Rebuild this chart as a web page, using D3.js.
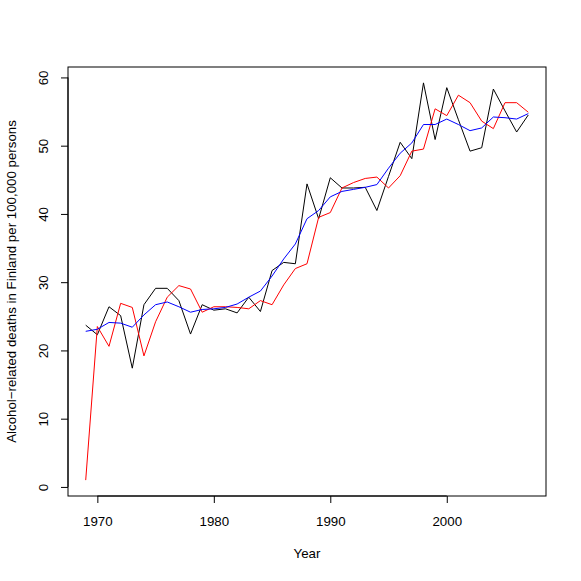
<!DOCTYPE html>
<html lang="en">
<head>
<meta charset="UTF-8">
<script src="https://d3js.org/d3.v7.min.js"></script>
<style>
  body { margin: 0; background: #fff; }
  text { font-family: "Liberation Sans", Arial, Helvetica, sans-serif; font-size: 13.3px; fill: #000; }
</style>
</head>
<body>
<div id="chart"></div>
<script>
// years 1969..2007
var years = d3.range(1969, 2008);

// observed deaths (black)
var observed = [23.7, 22.3, 26.4, 25.1, 17.4, 26.7, 29.1, 29.1, 27.3, 22.4,
  26.7, 25.9, 26.1, 25.5, 27.8, 25.7, 31.7, 32.9, 32.7, 44.4,
  39.3, 45.3, 43.8, 43.8, 43.9, 40.5, 45.5, 50.5, 48.1, 59.2,
  50.9, 58.5, 53.8, 49.2, 49.7, 58.3, 55.1, 52.0, 54.5];

// predicted (red)
var predicted = [1.0, 23.5, 20.6, 26.9, 26.3, 19.2, 24.2, 27.8, 29.5, 29.0,
  25.6, 26.4, 26.4, 26.3, 26.1, 27.3, 26.7, 29.6, 32.0, 32.7,
  39.5, 40.2, 43.8, 44.6, 45.2, 45.4, 43.8, 45.6, 49.2, 49.5,
  55.4, 54.4, 57.4, 56.3, 53.6, 52.5, 56.3, 56.3, 54.9];

// smoothed (blue)
var smoothed = [22.8, 23.1, 24.1, 24.0, 23.4, 25.2, 26.7, 27.1, 26.4, 25.6,
  26.0, 26.1, 26.3, 26.8, 27.8, 28.7, 30.9, 33.4, 35.6, 39.3,
  40.5, 42.5, 43.3, 43.6, 43.9, 44.3, 46.7, 48.9, 50.4, 53.1,
  53.1, 53.9, 53.1, 52.2, 52.6, 54.2, 54.1, 53.9, 54.7];

var xTicks = [1970, 1980, 1990, 2000];
var yTicks = [0, 10, 20, 30, 40, 50, 60];

var W = 581, H = 581;
var plotL = 68, plotR = 546, plotT = 67, plotB = 496;

var svg = d3.select("#chart").append("svg")
  .attr("width", W).attr("height", H);

// R style 4% padding around data range
var xPad = (2007 - 1969) * 0.04;
var allVals = observed.concat(predicted, smoothed);
var yMin = d3.min(allVals);
var yMax = d3.max(allVals);
var yPad = (yMax - yMin) * 0.04;

var x = d3.scaleLinear().domain([1969 - xPad, 2007 + xPad]).range([plotL, plotR]);
var y = d3.scaleLinear().domain([yMin - yPad, yMax + yPad]).range([plotB, plotT]);

// series
function drawLine(vals, color) {
  var line = d3.line()
    .x(function(d, i) { return x(years[i]); })
    .y(function(d) { return y(d); });
  svg.append("path")
    .datum(vals)
    .attr("fill", "none")
    .attr("stroke", color)
    .attr("stroke-width", 1)
    .attr("d", line);
}
drawLine(observed, "#000000");
drawLine(predicted, "#ff0000");
drawLine(smoothed, "#0000ff");

// box
svg.append("rect")
  .attr("x", plotL).attr("y", plotT)
  .attr("width", plotR - plotL).attr("height", plotB - plotT)
  .attr("fill", "none").attr("stroke", "#000").attr("stroke-width", 1);

// x axis
var xAxis = svg.append("g")
  .attr("transform", "translate(0," + plotB + ")")
  .call(d3.axisBottom(x).tickValues(xTicks).tickFormat(d3.format("d")).tickSizeInner(7).tickSizeOuter(0).tickPadding(14));
xAxis.select(".domain").attr("d", "M" + x(xTicks[0]) + ",0H" + x(xTicks[xTicks.length - 1]));
xAxis.attr("font-size", null).attr("font-family", null);

// y axis
var yAxis = svg.append("g")
  .attr("transform", "translate(" + plotL + ",0)")
  .call(d3.axisLeft(y).tickValues(yTicks).tickSizeInner(7).tickSizeOuter(0));
yAxis.select(".domain").attr("d", "M0," + y(yTicks[0]) + "V" + y(yTicks[yTicks.length - 1]));
yAxis.attr("font-size", null).attr("font-family", null);
yAxis.selectAll(".tick text").remove();
yAxis.selectAll(".tick").append("text")
  .attr("transform", "translate(-20,0) rotate(-90)")
  .attr("text-anchor", "middle")
  .text(function(d) { return d; });

// axis titles
svg.append("text")
  .attr("x", (plotL + plotR) / 2).attr("y", 558)
  .attr("text-anchor", "middle")
  .text("Year");

svg.append("text")
  .attr("transform", "translate(16," + (plotT + plotB) / 2 + ") rotate(-90)")
  .attr("text-anchor", "middle")
  .text("Alcohol\u2212related deaths in Finland per 100,000 persons");
</script>
</body>
</html>
